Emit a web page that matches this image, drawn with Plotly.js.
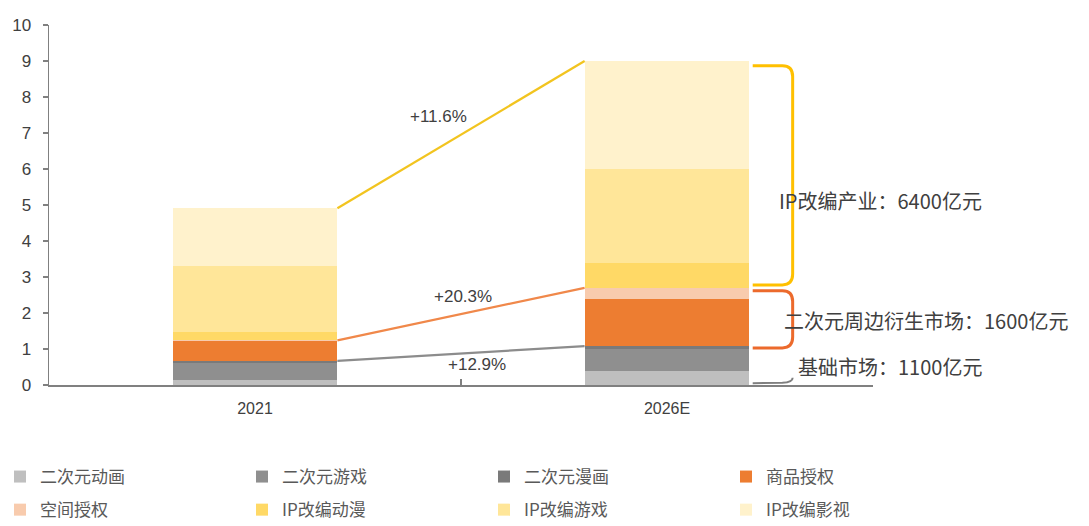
<!DOCTYPE html>
<html>
<head>
<meta charset="utf-8">
<script src="https://cdn.plot.ly/plotly-3.0.1.min.js"></script>
<style>html,body{margin:0;padding:0;background:#fff;}#chart{width:1089px;height:526px;}</style>
</head>
<body>
<div id="chart"></div>
<script>
// ---- data (单位：千亿元) ----
const categories = ['2021', '2026E'];
const seriesNames = ['二次元动画', '二次元游戏', '二次元漫画', '商品授权', '空间授权', 'IP改编动漫', 'IP改编游戏', 'IP改编影视'];
const dongHua   = [0.15, 0.40];
const youXi     = [0.45, 0.60];
const manHua    = [0.07, 0.08];
const shangPin  = [0.55, 1.30];
const kongJian  = [0.02, 0.32];
const ipDongMan = [0.22, 0.70];
const ipYouXi   = [1.85, 2.60];
const ipYingShi = [1.60, 3.00];
const growthLabels = ['+11.6%', '+20.3%', '+12.9%'];
const segmentLabels = ['IP改编产业：6400亿元', '二次元周边衍生市场：1600亿元', '基础市场：1100亿元'];
const yTicks = [0,1,2,3,4,5,6,7,8,9,10];

// ---- styles ----
const colors = ['#bfbfbf', '#8f8f8f', '#7a7a7a', '#ed7d31', '#f8cbad', '#ffd966', '#ffe699', '#fff2cc'];
const allSeries = [dongHua, youXi, manHua, shangPin, kongJian, ipDongMan, ipYouXi, ipYingShi];
const xIdx = categories.map((c, i) => i);
const barW = 0.4;
const cjk = 'Noto Sans CJK SC, sans-serif';
const txt = '#404040';
const legendIds = ['legend', 'legend2', 'legend3', 'legend4'];

const traces = allSeries.map((vals, k) => ({
  type: 'bar', x: xIdx, y: vals, name: seriesNames[k], width: barW,
  legend: legendIds[k % 4], legendgroup: 'g' + k,
  marker: {color: colors[k], line: {width: 0}}, hoverinfo: 'y+name'
}));

// cumulative groups
const sumUpTo = (n, i) => allSeries.slice(0, n).reduce((s, a) => s + a[i], 0);
const baseTop  = xIdx.map(i => sumUpTo(3, i));   // 基础市场
const periTop  = xIdx.map(i => sumUpTo(5, i));   // 周边衍生
const totalTop = xIdx.map(i => sumUpTo(8, i));   // 全部

const xL = xIdx[0] + barW / 2, xR = xIdx[1] - barW / 2;
const connect = [
  {y: totalTop, c: '#f2c41f'},
  {y: periTop,  c: '#f0884a'},
  {y: baseTop,  c: '#8c8c8c'}
];
connect.forEach(o => traces.push({
  type: 'scatter', mode: 'lines', x: [xL, xR], y: o.y, xaxis: 'x2', yaxis: 'y',
  line: {color: o.c, width: 2.2}, showlegend: false, hoverinfo: 'skip'
}));

// brackets
const bx0 = xIdx[1] + barW / 2 + 0.008, bx1 = xIdx[1] + barW / 2 + 0.105;
const rx = 0.025, ry = 0.3;
function bracket(top, bot) {
  return `M ${bx0},${top} L ${bx1 - rx},${top} Q ${bx1},${top} ${bx1},${top - ry} ` +
         `L ${bx1},${bot + ry} Q ${bx1},${bot} ${bx1 - rx},${bot} L ${bx0},${bot}`;
}
const shapes = [
  {type: 'path', xref: 'x', yref: 'y', path: bracket(totalTop[1] - 0.13, periTop[1] + 0.08), line: {color: '#ffc000', width: 3}},
  {type: 'path', xref: 'x', yref: 'y', path: bracket(periTop[1] - 0.08, baseTop[1] - 0.05), line: {color: '#ec6a2c', width: 3}},
  {type: 'path', xref: 'x', yref: 'y',
   path: `M ${bx0},0.05 L ${bx1 - rx},0.06 Q ${bx1},0.07 ${bx1},0.2`, line: {color: '#7f7f7f', width: 2}}
];

const annotations = [
  {x: 0.445, y: 7.45, text: growthLabels[0]},
  {x: 0.504, y: 2.45, text: growthLabels[1]},
  {x: 0.54,  y: 0.57, text: growthLabels[2]}
].map(a => ({xref: 'x', yref: 'y', x: a.x, y: a.y, text: a.text, showarrow: false,
  font: {family: 'Liberation Sans, Arial, sans-serif', size: 17, color: txt}}));
[
  {x: 1.266, y: 5.12, t: segmentLabels[0]},
  {x: 1.28,  y: 1.80, t: segmentLabels[1]},
  {x: 1.312, y: 0.52, t: segmentLabels[2]}
].forEach(a => annotations.push({xref: 'x', yref: 'y', x: a.x, y: a.y, text: a.t, showarrow: false,
  xanchor: 'left', font: {family: cjk, size: 20, color: txt}}));

const legendCols = [0, 242, 484, 726];
const legends = {};
legendIds.forEach((id, c) => {
  legends[id] = {
    orientation: 'v', traceorder: 'grouped', tracegroupgap: 8,
    xref: 'container', yref: 'container',
    x: legendCols[c] / 1089, y: 1 - 459 / 526, xanchor: 'left', yanchor: 'top',
    itemwidth: 30, font: {family: cjk, size: 17, color: '#595959'}
  };
});

const layout = Object.assign({
  width: 1089, height: 526,
  margin: {l: 49, r: 216, t: 25, b: 141, autoexpand: false},
  paper_bgcolor: '#fff', plot_bgcolor: '#fff',
  barmode: 'stack', bargap: 0,
  showlegend: true,
  xaxis: {
    type: 'linear', range: [-0.5, 1.5], tickvals: xIdx, ticktext: categories,
    ticks: '', showgrid: false, zeroline: false, showline: true, linecolor: '#808080', linewidth: 1.5,
    tickfont: {family: 'Liberation Sans, Arial, sans-serif', size: 16, color: txt}, ticklabelstandoff: 8,
    fixedrange: true
  },
  xaxis2: {
    type: 'linear', overlaying: 'x', anchor: 'y', range: [-0.5, 1.5],
    tickvals: [-0.5, 0.5, 1.5], ticks: 'inside', ticklen: 6, tickcolor: '#808080', tickwidth: 1.5,
    showticklabels: false, showgrid: false, zeroline: false, showline: false
  },
  yaxis: {
    range: [0, 10], tickvals: yTicks, ticks: 'outside', ticklen: 5, tickcolor: '#808080', tickwidth: 1.2,
    showgrid: false, zeroline: false, showline: true, linecolor: '#808080', linewidth: 1.5,
    tickfont: {family: 'Liberation Sans, Arial, sans-serif', size: 17, color: txt}, ticklabelstandoff: 8,
    fixedrange: true
  },
  shapes: shapes,
  annotations: annotations
}, legends);

Plotly.newPlot('chart', traces, layout, {displayModeBar: false, staticPlot: true});
</script>
</body>
</html>
